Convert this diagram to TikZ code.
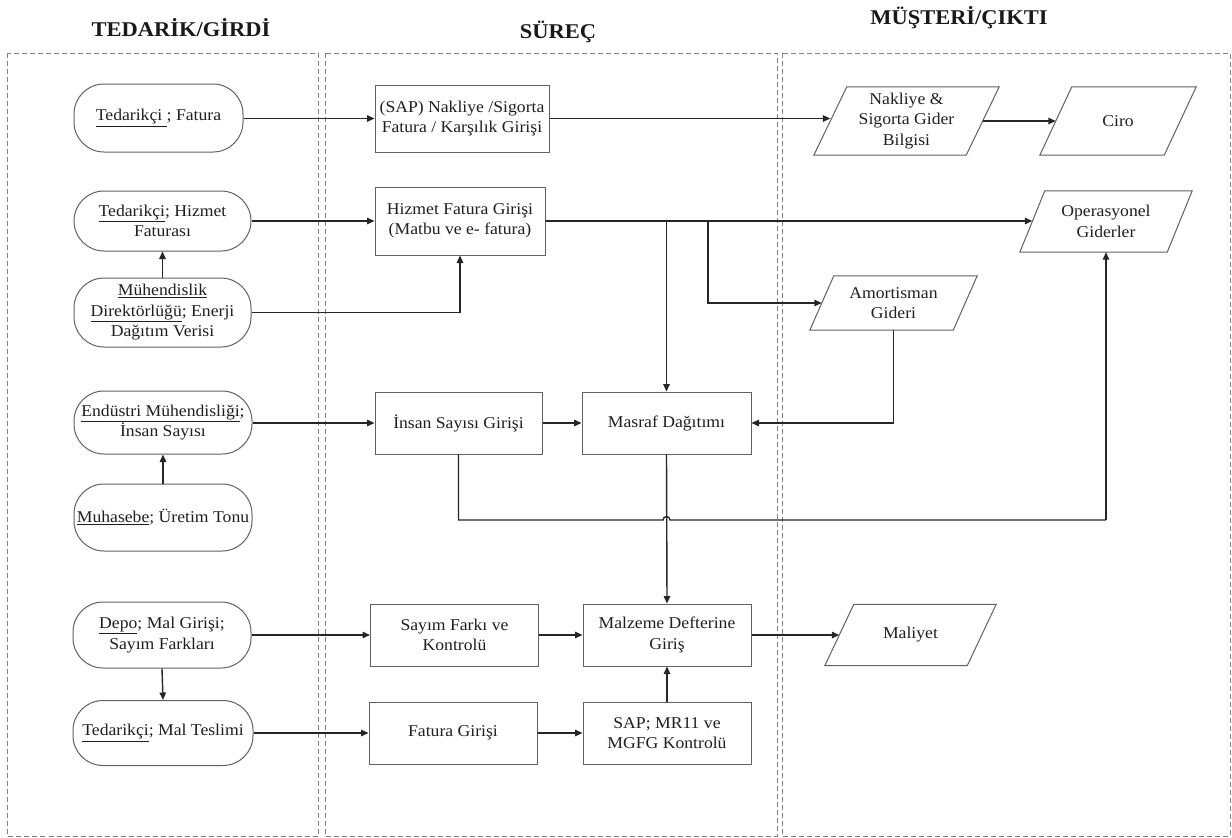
\documentclass[tikz,border=0pt]{standalone}
\usepackage{fontspec}
\setmainfont{Liberation Serif}[FakeStretch=1.07]
\usetikzlibrary{arrows.meta,calc}
\tikzset{
  lane/.style={draw=black!50, line width=0.9pt, dash pattern=on 5pt off 3pt},
  boxline/.style={draw=black!62, line width=1pt},
  txt/.style={font=\fontsize{16.5}{20.5}\selectfont, text=black!88, align=center, inner sep=0pt},
  procbox/.style={boxline, txt, rectangle},
  stadium/.style={boxline, txt, rectangle, rounded corners=30pt},
  ptext/.style={txt, rectangle, draw=none},
  head/.style={font=\fontsize{21}{24}\selectfont\bfseries, text=black!90, inner sep=0pt},
  conn/.style={draw=black!85, line width=1.4pt, -{Triangle[length=7.5pt,width=6.5pt]}},
  plain/.style={draw=black!85, line width=1.4pt}
}
\newcommand{\paranode}[8]{%
  \node[ptext, minimum width=#4, minimum height=#5] (#1) at (#2,#3) {#7};
  \draw[boxline] ($(#1.south west)+(-#6/2,0)$) -- ($(#1.south east)+(-#6/2,0)$) -- ($(#1.north east)+(#6/2,0)$) -- ($(#1.north west)+(#6/2,0)$) -- cycle;
}
\begin{document}
\begin{tikzpicture}[x=1pt,y=-1pt]
\useasboundingbox (0,0) rectangle (1232,838);
% lanes
\draw[lane] (7.5,53) rectangle (318,836);
\draw[lane] (325,53) rectangle (777,836);
\draw[lane] (782,53) rectangle (1230,836);
% headers
\node[head] (h1) at (181,28) {TEDARİK/GİRDİ};
\node[head] (h2) at (558,32) {SÜREÇ};
\node[head] (h3) at (959,18) {MÜŞTERİ/ÇIKTI};
% left column
\node[stadium, minimum width=169, minimum height=68] (n1) at (158.5,118) {\underline{Tedarikçi\ }; Fatura};
\node[stadium, minimum width=177, minimum height=60] (n2) at (162.5,221) {\underline{Tedarikçi}; Hizmet\\Faturası};
\node[stadium, minimum width=177, minimum height=69] (n3) at (162.5,312.5) {\underline{Mühendislik}\\\underline{Direktörlüğü}; Enerji\\Dağıtım Verisi};
\node[stadium, minimum width=178, minimum height=63] (n4) at (163,422.5) {\underline{Endüstri Mühendisliği};\\İnsan Sayısı};
\node[stadium, minimum width=178, minimum height=67] (n5) at (163,517.5) {\underline{Muhasebe}; Üretim Tonu};
\node[stadium, minimum width=178, minimum height=66] (n6) at (162,635) {\underline{Depo}; Mal Girişi;\\Sayım Farkları};
\node[stadium, minimum width=180, minimum height=65] (n7) at (163,733) {\underline{Tedarikçi}; Mal Teslimi};
% process boxes
\node[procbox, minimum width=174, minimum height=67] (sap) at (462,118.5) {(SAP) Nakliye /Sigorta\\Fatura / Karşılık Girişi};
\node[procbox, minimum width=170, minimum height=68] (hiz) at (460,221) {Hizmet Fatura Girişi\\(Matbu ve e- fatura)};
\node[procbox, minimum width=167, minimum height=62] (ins) at (458.5,423) {İnsan Sayısı Girişi};
\node[procbox, minimum width=169, minimum height=62] (mas) at (666.5,423) {Masraf Dağıtımı};
\node[procbox, minimum width=168, minimum height=62] (say) at (454.5,635) {Sayım Farkı ve\\Kontrolü};
\node[procbox, minimum width=168, minimum height=62] (mal) at (667,635) {Malzeme Defterine\\Giriş};
\node[procbox, minimum width=168, minimum height=62] (fat) at (453,733) {Fatura Girişi};
\node[procbox, minimum width=168, minimum height=62] (mr) at (667,733) {SAP; MR11 ve\\MGFG Kontrolü};
% outputs
\paranode{nak}{906.5}{121}{152}{68}{33}{Nakliye \&\\Sigorta Gider\\Bilgisi}{}
\paranode{ciro}{1118}{121}{124}{68}{32}{Ciro}{}
\paranode{ope}{1106}{221.5}{147}{61}{25}{Operasyonel\\Giderler}{}
\paranode{amo}{893.5}{303}{143}{54}{24}{Amortisman\\Gideri}{}
\paranode{maly}{910.5}{635}{142}{61}{29}{Maliyet}{}
% connectors
\draw[conn] (n1.east |- sap.west) -- (sap.west);
\draw[conn] (sap.east) -- (sap.east -| nak.west);
\draw[conn] (nak.east) -- (ciro.west);
\draw[conn] (n2.east |- hiz.west) -- (hiz.west);
\draw[conn] (n3.north) -- (n2.south);
\draw[conn] (n3.east) -| (hiz.south);
\draw[conn] (hiz.east) -- (hiz.east -| ope.west);
\coordinate (b1) at (mas.north |- hiz.east);
\coordinate (b2) at (708,221);
\draw[conn] (b1) -- (mas.north);
\draw[conn] (b2) |- (amo.west);
\draw[conn] (amo.south) |- (mas.east);
\draw[conn] (n4.east |- ins.west) -- (ins.west);
\draw[conn] (ins.east) -- (mas.west);
\draw[conn] (n5.north) -- (n4.south);
\coordinate (j1) at (ins.south |- 0,520);
\coordinate (j2) at (ope.south |- 0,520);
\coordinate (h) at (mas.south |- 0,520);
\draw[plain] (ins.south) -- (j1) -- ($(h)+(-3.5,0)$) arc[start angle=180,end angle=0,x radius=3.5pt,y radius=3.5pt] -- (j2);
\draw[conn] (j2) -- (ope.south);
\draw[conn] (mas.south) -- (mal.north);
\draw[conn] (mal.east) -- (mal.east -| maly.west);
\draw[conn] (n6.east |- say.west) -- (say.west);
\draw[conn] (say.east) -- (say.east -| mal.west);
\draw[conn] (n6.south) -- (n7.north);
\draw[conn] (n7.east |- fat.west) -- (fat.west);
\draw[conn] (fat.east) -- (mr.west);
\draw[conn] (mr.north) -- (mal.south);
\end{tikzpicture}
\end{document}
